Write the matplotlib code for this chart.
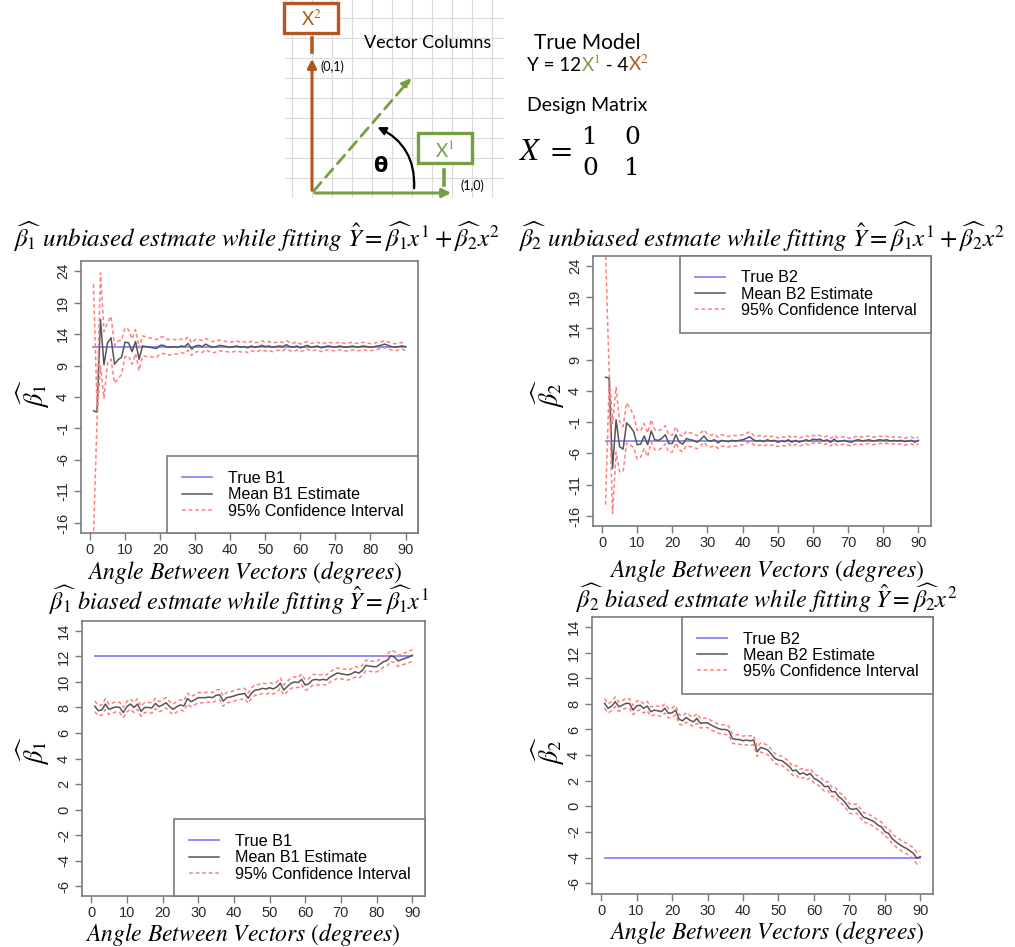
import numpy as np
import matplotlib
matplotlib.use("Agg")
import matplotlib.pyplot as plt
from matplotlib.patches import FancyArrowPatch, Rectangle

plt.rcParams['mathtext.fontset'] = 'stix'
plt.rcParams['axes.unicode_minus'] = False
plt.rcParams['font.family'] = ['Liberation Sans', 'DejaVu Sans']

# ---- data ----
angles = np.arange(1, 91)
true_b1 = 12
true_b2 = -4

# beta1, full model (unbiased)
b1_full_mean = [1.8, 1.6, 16.3, 9.1, 12.6, 13.4, 9.2, 9.9, 10.3, 12.7, 12.6, 11.2, 12.8, 10.0, 12.1,
                12.0, 11.9, 11.8, 11.7, 12.2, 12.2, 11.9, 11.9, 12.0, 11.9, 12.1, 12.0, 12.5, 11.6, 12.1,
                12.2, 12.0, 12.4, 12.1, 11.9, 12.0, 12.2, 12.1, 12.0, 11.9, 12.0, 12.1, 11.9, 12.0, 11.8,
                12.1, 11.9, 12.0, 12.2, 12.0, 12.1, 11.9, 12.0, 12.1, 12.0, 12.3, 12.0, 11.9, 12.1, 11.8,
                12.0, 12.2, 11.9, 12.0, 12.1, 11.8, 12.0, 12.1, 12.0, 11.9, 12.1, 12.0, 11.9, 12.0, 12.1,
                11.9, 12.0, 12.1, 12.0, 11.9, 12.0, 12.1, 12.2, 12.4, 12.2, 12.0, 11.9, 12.0, 12.1, 12.0]
b1_full_half = [20.1, 1.2, 7.4, 5.3, 3.2, 3.4, 3.0, 3.0, 2.7, 2.3, 2.1, 2.0, 1.9, 1.8, 1.6,
                1.55, 1.5, 1.45, 1.4, 1.35, 1.3, 1.25, 1.2, 1.15, 1.1, 1.1, 1.05, 1.05, 1.0, 1.0,
                0.95, 0.95, 0.9, 0.9, 0.9, 0.85, 0.85, 0.85, 0.8, 0.8, 0.8, 0.8, 0.75, 0.75, 0.75,
                0.75, 0.7, 0.7, 0.7, 0.7, 0.7, 0.7, 0.65, 0.65, 0.65, 0.65, 0.65, 0.65, 0.65, 0.6,
                0.6, 0.6, 0.6, 0.6, 0.6, 0.6, 0.6, 0.6, 0.6, 0.6, 0.6, 0.6, 0.6, 0.6, 0.6,
                0.6, 0.6, 0.6, 0.6, 0.55, 0.55, 0.55, 0.55, 0.55, 0.55, 0.55, 0.55, 0.55, 0.55, 0.55]

# beta2, full model (unbiased)
b2_full_mean = [6.2, 6.1, -8.4, -0.6, -4.9, -5.3, -1.1, -1.7, -2.5, -4.6, -4.5, -3.2, -4.6, -2.4, -3.8,
                -3.9, -3.6, -3.0, -4.4, -4.4, -3.0, -4.2, -4.5, -3.6, -3.8, -3.9, -4.2, -3.8, -3.2, -3.9,
                -4.0, -3.8, -4.3, -3.9, -4.0, -4.1, -3.9, -4.0, -3.9, -3.8, -3.6, -3.3, -3.8, -4.0, -3.9,
                -4.1, -3.8, -4.0, -3.9, -4.2, -4.0, -4.1, -3.8, -4.2, -3.9, -4.2, -4.0, -3.8, -4.0, -3.7,
                -3.8, -3.7, -4.0, -3.8, -4.2, -3.7, -4.1, -4.0, -3.9, -4.1, -4.2, -3.9, -3.8, -4.0, -3.9,
                -3.8, -4.0, -3.9, -3.8, -3.9, -3.8, -4.0, -3.9, -4.0, -3.9, -4.1, -4.0, -3.9, -4.2, -3.9]
b2_full_half = [20.4, 1.5, 7.2, 5.2, 4.0, 3.6, 3.2, 2.9, 2.6, 2.3, 2.1, 2.0, 1.9, 1.8, 1.6,
                1.55, 1.5, 1.45, 1.4, 1.35, 1.3, 1.25, 1.2, 1.15, 1.1, 1.1, 1.05, 1.05, 1.0, 1.0,
                0.95, 0.95, 0.9, 0.9, 0.9, 0.85, 0.85, 0.85, 0.8, 0.8, 0.8, 0.8, 0.75, 0.75, 0.75,
                0.75, 0.7, 0.7, 0.7, 0.7, 0.7, 0.7, 0.65, 0.65, 0.65, 0.65, 0.65, 0.65, 0.65, 0.6,
                0.6, 0.6, 0.6, 0.6, 0.6, 0.6, 0.6, 0.6, 0.6, 0.6, 0.6, 0.6, 0.6, 0.6, 0.6,
                0.6, 0.6, 0.6, 0.6, 0.55, 0.55, 0.55, 0.55, 0.55, 0.55, 0.55, 0.55, 0.55, 0.55, 0.55]

# beta1, model with x1 only (biased)
b1_bias_mean = [8.1, 7.75, 7.8, 8.27, 7.85, 7.96, 8.06, 8.0, 7.6, 8.06, 8.27, 8.0, 8.27, 7.7, 8.0,
                8.0, 7.96, 8.32, 8.06, 8.2, 8.37, 8.06, 7.85, 8.06, 8.2, 8.12, 8.7, 8.45, 8.6, 8.77,
                8.77, 8.77, 8.82, 8.77, 8.95, 9.0, 8.5, 8.77, 8.82, 8.9, 9.0, 9.05, 9.1, 8.73, 9.15,
                9.37, 9.4, 9.5, 9.45, 9.55, 9.45, 9.6, 9.9, 9.37, 9.65, 9.9, 10.0, 9.95, 10.2, 9.76,
                9.85, 10.15, 10.2, 10.15, 10.2, 10.15, 10.4, 10.55, 10.7, 10.65, 10.6, 10.55, 10.65, 10.8, 10.7,
                10.9, 11.3, 11.25, 11.2, 11.2, 11.4, 11.6, 11.7, 12.05, 11.95, 11.65, 11.75, 11.85, 11.95, 12.1]
b1_bias_half = [0.42, 0.4, 0.4, 0.42, 0.4, 0.4, 0.41, 0.4, 0.4, 0.42, 0.4, 0.4, 0.41, 0.4, 0.4,
                0.4, 0.41, 0.4, 0.4, 0.42, 0.4, 0.4, 0.4, 0.41, 0.4, 0.4, 0.42, 0.4, 0.4, 0.4,
                0.41, 0.4, 0.4, 0.4, 0.42, 0.4, 0.4, 0.41, 0.4, 0.4, 0.4, 0.42, 0.4, 0.4, 0.4,
                0.41, 0.4, 0.4, 0.42, 0.4, 0.4, 0.4, 0.41, 0.4, 0.4, 0.42, 0.4, 0.4, 0.41, 0.4,
                0.4, 0.42, 0.4, 0.4, 0.41, 0.4, 0.4, 0.42, 0.4, 0.4, 0.41, 0.4, 0.4, 0.42, 0.4,
                0.41, 0.42, 0.4, 0.42, 0.41, 0.43, 0.42, 0.43, 0.44, 0.43, 0.44, 0.43, 0.44, 0.45, 0.45]

# beta2, model with x2 only (biased)
b2_bias_mean = [8.04, 7.65, 7.83, 8.17, 7.78, 7.9, 8.04, 8.04, 7.51, 7.83, 7.9, 7.65, 7.83, 7.39, 7.51,
                7.46, 7.39, 7.65, 7.26, 7.3, 7.51, 6.79, 6.68, 6.94, 6.73, 6.6, 6.86, 6.47, 6.52, 6.52,
                6.34, 6.21, 6.08, 6.0, 6.0, 5.9, 5.3, 5.22, 5.22, 5.12, 5.17, 5.12, 5.17, 4.26, 4.6,
                4.52, 4.39, 4.08, 3.74, 3.61, 3.56, 3.35, 3.14, 2.78, 2.83, 2.52, 2.62, 2.44, 2.57, 2.18,
                2.05, 1.84, 1.53, 1.58, 1.14, 1.14, 0.75, 0.54, 0.23, -0.16, -0.24, -0.16, -0.5, -0.86, -0.94,
                -1.07, -1.2, -1.46, -1.59, -1.98, -2.1, -2.5, -2.75, -2.94, -3.14, -3.27, -3.46, -3.66, -4.05, -3.92]
b2_bias_half = [0.38, 0.36, 0.36, 0.38, 0.36, 0.36, 0.37, 0.36, 0.36, 0.38, 0.36, 0.36, 0.37, 0.36, 0.36,
                0.36, 0.37, 0.36, 0.36, 0.38, 0.36, 0.36, 0.36, 0.37, 0.36, 0.36, 0.38, 0.36, 0.36, 0.36,
                0.37, 0.36, 0.36, 0.36, 0.38, 0.36, 0.36, 0.37, 0.36, 0.36, 0.36, 0.38, 0.36, 0.36, 0.36,
                0.37, 0.36, 0.36, 0.38, 0.36, 0.36, 0.36, 0.37, 0.36, 0.36, 0.38, 0.36, 0.36, 0.37, 0.36,
                0.36, 0.38, 0.36, 0.36, 0.37, 0.36, 0.36, 0.38, 0.36, 0.36, 0.37, 0.36, 0.36, 0.38, 0.36,
                0.37, 0.38, 0.36, 0.38, 0.37, 0.38, 0.38, 0.39, 0.4, 0.4, 0.41, 0.42, 0.43, 0.45, 0.45]

ORANGE = '#B5561F'
GREEN = '#76A040'
BLUE = '#8585FF'
MEAN_C = '#555555'
CI_C = '#FF7F7F'
FRAME = '#7A7A7A'

W, H = 1015, 947
fig = plt.figure(figsize=(W / 100, H / 100), dpi=100)

# overlay axes in pixel coordinates for the diagram and panel captions
dax = fig.add_axes([0, 0, 1, 1])
dax.set_xlim(0, W)
dax.set_ylim(H, 0)
dax.axis('off')

# --- vector diagram ---
for gx in range(292, 504, 20):
    dax.plot([gx, gx], [0, 197], color='#DADADA', lw=0.8, zorder=1)
for gy in range(18, 198, 20):
    dax.plot([285, 503], [gy, gy], color='#DADADA', lw=0.8, zorder=1)

dax.add_patch(FancyArrowPatch((312, 193), (312, 56), arrowstyle='-|>', mutation_scale=13,
                              color=ORANGE, lw=2.2, zorder=3))
dax.plot([312, 312], [38, 52], color=ORANGE, lw=2.6, zorder=3)
dax.add_patch(FancyArrowPatch((312, 193), (454, 193), arrowstyle='-|>', mutation_scale=13,
                              color=GREEN, lw=2.2, zorder=3))
dax.plot([444, 444], [170, 185], color=GREEN, lw=2.6, zorder=3)
dax.add_patch(FancyArrowPatch((312, 193), (413, 76), arrowstyle='-|>', mutation_scale=13,
                              color=GREEN, lw=2.0, linestyle=(0, (4, 2.5)), zorder=3))
dax.add_patch(FancyArrowPatch((414, 191), (375, 126), arrowstyle='-|>', mutation_scale=12,
                              connectionstyle='arc3,rad=0.35', color='black', lw=1.6, zorder=3))
dax.add_patch(Rectangle((284, 3), 54, 30, facecolor='white', edgecolor=ORANGE, lw=2.4, zorder=4))
dax.add_patch(Rectangle((418, 133), 54, 30, facecolor='white', edgecolor=GREEN, lw=2.4, zorder=4))
dax.text(311, 19, r'X$^2$', color=ORANGE, fontsize=13.5, family='Lato', ha='center', va='center', zorder=5)
dax.text(445, 149, r'X$^1$', color=GREEN, fontsize=13.5, family='Lato', ha='center', va='center', zorder=5)
dax.text(321, 67, '(0,1)', fontsize=9, family='Lato', ha='left', va='center', zorder=5)
dax.text(461, 186, '(1,0)', fontsize=9, family='Lato', ha='left', va='center', zorder=5)
dax.text(380, 166, 'θ', fontsize=15, fontweight='bold', family='DejaVu Sans', ha='center', va='center', zorder=5)
dax.text(428, 43, 'Vector Columns', fontsize=13, family='Lato', ha='center', va='center', zorder=5)

dax.text(587, 43, 'True Model', fontsize=15, family='Lato', ha='center', va='center')
t0 = dax.text(527, 65, 'Y = 12', fontsize=13.5, family='Lato', ha='left', va='center')
t1 = dax.annotate(r'X$^1$', xy=(1, 0), xycoords=t0, va='bottom', fontsize=13.5, family='Lato', color=GREEN)
t2 = dax.annotate(' - 4', xy=(1, 0), xycoords=t1, va='bottom', fontsize=13.5, family='Lato')
dax.annotate(r'X$^2$', xy=(1, 0), xycoords=t2, va='bottom', fontsize=13.5, family='Lato', color=ORANGE)
dax.text(587, 105, 'Design Matrix', fontsize=14, family='Lato', ha='center', va='center')
dax.text(545, 152, r'$X\ =$', fontsize=22, ha='center', va='center')
for (mx, my, mv) in [(590, 137, '1'), (632, 137, '0'), (590, 168, '0'), (632, 168, '1')]:
    dax.text(mx, my, mv, fontsize=18, family='DejaVu Serif', ha='center', va='center')

# --- panel captions ---
full_fit = r'\hat{Y}=\widehat{\beta_1}x^1+\widehat{\beta_2}x^2'
captions = [
    (257, 237, 18, r'$\widehat{\beta_1}\ unbiased\ estmate\ while\ fitting\ ' + full_fit + '$'),
    (762, 237, 18, r'$\widehat{\beta_2}\ unbiased\ estmate\ while\ fitting\ ' + full_fit + '$'),
    (239, 600, 17.5, r'$\widehat{\beta_1}\ biased\ estmate\ while\ fitting\ \hat{Y}=\widehat{\beta_1}x^1$'),
    (767, 598, 17.5, r'$\widehat{\beta_2}\ biased\ estmate\ while\ fitting\ \hat{Y}=\widehat{\beta_2}x^2$'),
]
for cx, cy, fs, s in captions:
    dax.text(cx, cy, s, fontsize=fs, ha='center', va='center')

xlab = r'$Angle\ Between\ Vectors\ (degrees)$'
for cx, cy in [(245, 572), (767, 570), (243, 934), (767, 932)]:
    dax.text(cx, cy, xlab, fontsize=17, ha='center', va='center')
for cx, cy, s in [(33, 393, r'$\widehat{\beta_1}$'), (548, 393, r'$\widehat{\beta_2}$'),
                  (33, 750, r'$\widehat{\beta_1}$'), (548, 750, r'$\widehat{\beta_2}$')]:
    dax.text(cx, cy, s, fontsize=19, rotation=90, ha='center', va='center')


def panel(box, mean, half, true_val, name, ylim, yticks, legend_loc):
    x0, y0, x1, y1 = box
    ax = fig.add_axes([x0 / W, 1 - y1 / H, (x1 - x0) / W, (y1 - y0) / H])
    mean = np.array(mean)
    half = np.array(half)
    ax.plot(angles, np.full(len(angles), true_val), color=BLUE, lw=1.3, label='True ' + name)
    ax.plot(angles, mean, color=MEAN_C, lw=1.1, label='Mean ' + name + ' Estimate')
    ax.plot(angles, mean - half, color=CI_C, lw=1.1, dashes=(2.5, 1.8), label='95% Confidence Interval')
    ax.plot(angles, mean + half, color=CI_C, lw=1.1, dashes=(2.5, 1.8))
    ax.set_xlim(-2.56, 93.56)
    ax.set_ylim(*ylim)
    ax.set_xticks(range(0, 91, 10))
    ax.set_yticks(yticks)
    ax.tick_params(direction='out', length=5, width=1, color=FRAME, labelsize=10.5,
                   labelcolor='#2A2A2A')
    ax.tick_params(axis='x', pad=2)
    ax.tick_params(axis='y', pad=3, labelrotation=90)
    for lab in ax.get_yticklabels():
        lab.set_va('center')
    for sp in ax.spines.values():
        sp.set_color(FRAME)
        sp.set_linewidth(1.2)
    leg = ax.legend(loc=legend_loc, borderaxespad=0, fancybox=False, edgecolor=FRAME,
                    framealpha=1, fontsize=11.6, handlelength=1.9, handletextpad=0.95,
                    borderpad=0.9, labelspacing=0.08)
    leg.get_frame().set_linewidth(1.2)
    return ax


panel((81, 261, 418, 533), b1_full_mean, b1_full_half, true_b1, 'B1',
      (-17.59, 25.59), [-16, -11, -6, -1, 4, 9, 14, 19, 24], 'lower right')
panel((593, 256, 931, 526), b2_full_mean, b2_full_half, true_b2, 'B2',
      (-17.6, 25.6), [-16, -11, -6, -1, 4, 9, 14, 19, 24], 'upper right')
panel((82, 621, 425, 896), b1_bias_mean, b1_bias_half, true_b1, 'B1',
      (-6.78, 14.78), list(range(-6, 15, 2)), 'lower right')
panel((592, 617, 933, 894), b2_bias_mean, b2_bias_half, true_b2, 'B2',
      (-6.84, 14.78), list(range(-6, 15, 2)), 'upper right')

fig.savefig('out.png', dpi=100)
